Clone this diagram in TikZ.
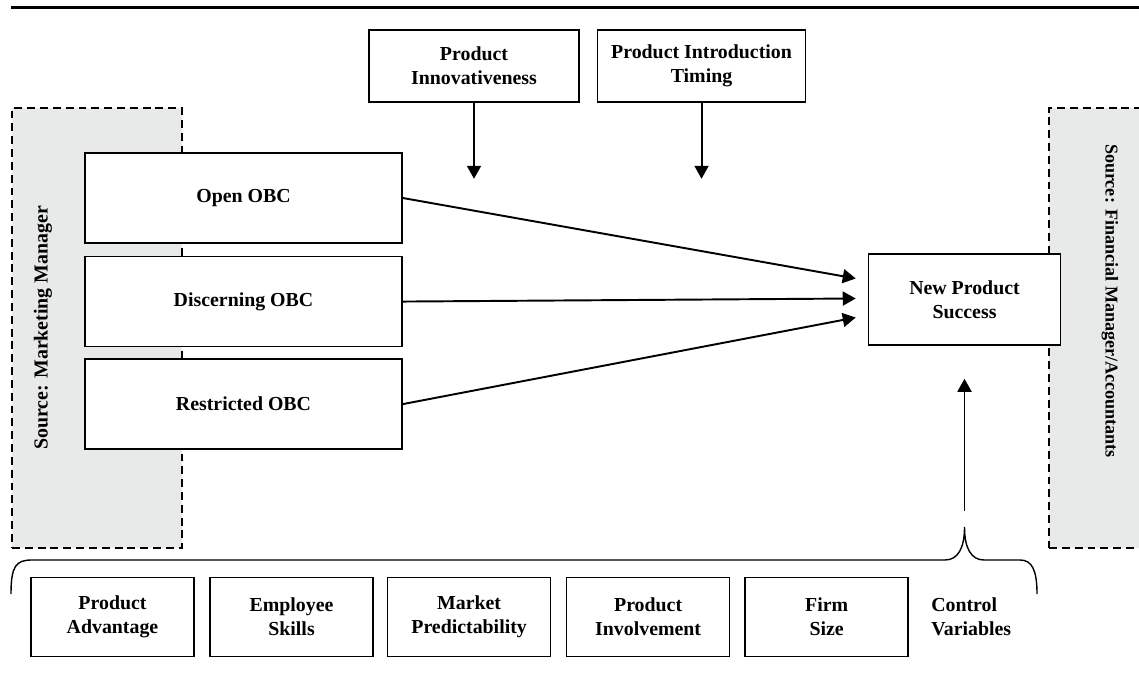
\documentclass[tikz,border=0pt]{standalone}
\usepackage{fontspec}
\setmainfont{Liberation Serif}
\usetikzlibrary{shapes,arrows.meta,positioning,calc}
\definecolor{srcgray}{RGB}{232,233,233}
\def\Dep{New Product\\ Success}

\begin{document}
\begin{tikzpicture}[% styles for the whole picture, one unit is one pixel of the page
				x=0.02cm, y=-0.02cm,
				every node/.style={
					align=center,  		% so that the "\\" for line break works
					font=\fontsize{11.3}{13.6}\selectfont\bfseries,
					inner sep=0pt
				},
				box/.style={rectangle,draw=black,fill=white,line width=0.9pt},
				srcbox/.style={rectangle,draw=black,fill=srcgray,dash pattern=on 4.5pt off 2.8pt,line width=0.8pt},
				every edge/.style={draw,line width=1.1pt,-{Triangle[length=0.26cm,width=0.28cm]}}
			]
			\useasboundingbox (0,0) rectangle (1139,695);
			\draw[line width=1.7pt] (11,8) -- (1139,8);
			% who answered what
			\node[srcbox,minimum width=3.4cm,minimum height=8.8cm](S1) at (97,328) {};
			\node[srcbox,minimum width=1.92cm,minimum height=8.8cm](S2) at (1097,328) {};
			\node[rotate=90](T1) at (43,328) {Source: Marketing Manager};
			\node[rotate=-90,font=\fontsize{10.3}{12}\selectfont\bfseries](T2) at (1110,301) {Source: Financial Manager/Accountants};
			% the three OBC types
			\node[box,minimum width=6.34cm,minimum height=1.8cm](O1) at (243.5,198) {Open OBC};
			\node[box,minimum width=6.34cm,minimum height=1.8cm](O2)[below=0.24cm of O1]{Discerning OBC};
			\node[box,minimum width=6.34cm,minimum height=1.8cm](O3)[below=0.22cm of O2]{Restricted OBC};
			% moderators
			\node[box,minimum width=4.2cm,minimum height=1.44cm](M1) at (474,66) {Product\\ Innovativeness};
			\node[box,minimum width=4.16cm,minimum height=1.44cm](M2)[right=0.34cm of M1]{Product Introduction\\ Timing};
			\node[box,minimum width=3.84cm,minimum height=1.82cm](N1) at (964.5,299.5) {\Dep};
			% control variables
			\node[box,minimum width=3.26cm,minimum height=1.58cm](C1) at (112.5,617) {Product\\ Advantage};
			\node[box,minimum width=3.26cm,minimum height=1.58cm](C2)[right=0.29cm of C1]{Employee\\ Skills};
			\node[box,minimum width=3.26cm,minimum height=1.58cm](C3)[right=0.26cm of C2]{Market\\ Predictability};
			\node[box,minimum width=3.26cm,minimum height=1.58cm](C4)[right=0.29cm of C3]{Product\\ Involvement};
			\node[box,minimum width=3.26cm,minimum height=1.58cm](C5)[right=0.28cm of C4]{Firm\\ Size};
			\node[align=left](C6)[right=0.44cm of C5]{Control\\ Variables};
			% brace over the controls
			\draw[line width=0.8pt] (11,594) .. controls (11,566) and (16,560) .. (32,560) -- (945,560)
				.. controls (958,560) and (964.5,548) .. (964.5,527) .. controls (964.5,548) and (971,560) .. (984,560)
				-- (1020,560) .. controls (1032,560) and (1037,570) .. (1037,594);
			\coordinate (P1) at ($(M1.south)+(0,76)$);
			\coordinate (P2) at ($(M2.south)+(0,76)$);
			\coordinate (B1) at (964.5,511);
			\path
			(M1)edge []	(P1)
			(M2)edge []	(P2)
			(O1.east)edge []	($(N1.west)+(-12,-21)$)
			(O2.east)edge []	($(N1.west)+(-12,-1)$)
			(O3.east)edge []	($(N1.west)+(-12,18)$)
			(B1)edge [shorten >=0.66cm]	(N1)
			;
		\end{tikzpicture}
\end{document}
